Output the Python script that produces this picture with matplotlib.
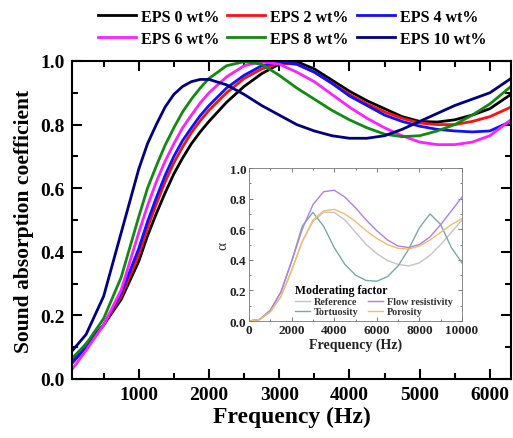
import numpy as np
import matplotlib
matplotlib.use("Agg")
import matplotlib.pyplot as plt
from matplotlib.ticker import MultipleLocator, FormatStrFormatter

plt.rcParams['font.family'] = ['Liberation Serif', 'DejaVu Serif']
plt.rcParams['font.weight'] = 'bold'

# main chart data (Hz, absorption coefficient)
freq = [50, 250, 500, 750, 1000, 1125, 1250, 1375, 1500, 1625, 1750, 1875, 2000, 2250,
        2500, 2750, 3000, 3250, 3500, 3750, 4000, 4250, 4500, 4750, 5000, 5250, 5500,
        5750, 6000, 6300]
eps0 = [0.06, 0.11, 0.17, 0.25, 0.37, 0.45, 0.52, 0.585, 0.645, 0.695, 0.74, 0.777, 0.81,
        0.87, 0.92, 0.96, 0.99, 0.998, 0.975, 0.94, 0.905, 0.875, 0.85, 0.825, 0.81,
        0.808, 0.815, 0.83, 0.85, 0.895]
eps2 = [0.05, 0.10, 0.17, 0.26, 0.39, 0.475, 0.55, 0.62, 0.68, 0.73, 0.775, 0.812, 0.845,
        0.90, 0.945, 0.975, 0.993, 0.99, 0.965, 0.93, 0.895, 0.865, 0.84, 0.82, 0.805,
        0.80, 0.80, 0.81, 0.825, 0.855]
eps4 = [0.05, 0.10, 0.17, 0.27, 0.41, 0.495, 0.57, 0.64, 0.70, 0.75, 0.79, 0.828, 0.86,
        0.915, 0.955, 0.985, 0.997, 0.99, 0.965, 0.93, 0.89, 0.86, 0.83, 0.81, 0.795,
        0.785, 0.78, 0.777, 0.78, 0.81]
eps6 = [0.03, 0.09, 0.17, 0.28, 0.46, 0.545, 0.62, 0.685, 0.74, 0.79, 0.83, 0.868, 0.90,
        0.95, 0.985, 0.998, 0.99, 0.965, 0.935, 0.895, 0.855, 0.82, 0.79, 0.765, 0.745,
        0.737, 0.737, 0.745, 0.765, 0.815]
eps8 = [0.065, 0.11, 0.19, 0.32, 0.51, 0.60, 0.67, 0.735, 0.79, 0.84, 0.88, 0.915, 0.945,
        0.985, 0.998, 0.99, 0.955, 0.915, 0.88, 0.845, 0.815, 0.79, 0.77, 0.762, 0.765,
        0.78, 0.80, 0.83, 0.865, 0.92]
eps10 = [0.088, 0.14, 0.26, 0.46, 0.66, 0.74, 0.80, 0.855, 0.895, 0.92, 0.935, 0.942, 0.942,
         0.925, 0.895, 0.86, 0.83, 0.80, 0.78, 0.765, 0.757, 0.757, 0.765, 0.785, 0.81,
         0.835, 0.86, 0.88, 0.90, 0.945]
labels = ['EPS 0 wt%', 'EPS 2 wt%', 'EPS 4 wt%', 'EPS 6 wt%', 'EPS 8 wt%', 'EPS 10 wt%']
colors = ['#000000', '#ff1010', '#1010ff', '#ff20ff', '#108a10', '#000080']

# inset data
freq_in = [0, 500, 1000, 1500, 2000, 2500, 3000, 3500, 4000, 4500, 5000,
           5500, 6000, 6500, 7000, 7500, 8000, 8500, 9000, 9500, 10000]
ref = [0, 0.01, 0.06, 0.16, 0.33, 0.52, 0.65, 0.71, 0.71, 0.66, 0.58,
       0.50, 0.44, 0.395, 0.37, 0.36, 0.38, 0.43, 0.50, 0.58, 0.66]
flow = [0, 0.01, 0.07, 0.19, 0.39, 0.60, 0.76, 0.845, 0.855, 0.81, 0.74,
        0.66, 0.59, 0.53, 0.49, 0.48, 0.50, 0.55, 0.63, 0.72, 0.81]
tort = [0, 0.01, 0.07, 0.19, 0.39, 0.62, 0.71, 0.62, 0.48, 0.37, 0.30,
        0.265, 0.26, 0.29, 0.36, 0.47, 0.61, 0.70, 0.63, 0.48, 0.38]
poro = [0, 0.01, 0.06, 0.16, 0.33, 0.52, 0.66, 0.72, 0.73, 0.70, 0.65,
        0.59, 0.54, 0.50, 0.475, 0.47, 0.49, 0.53, 0.58, 0.63, 0.67]
inset_labels = ['Reference', 'Tortuosity', 'Flow resistivity', 'Porosity']
inset_colors = ['#c4c4c4', '#78aaa4', '#b07ee6', '#f2bc6c']

fig = plt.figure(figsize=(5.13, 4.39), dpi=100)
ax = fig.add_axes([0.1404, 0.1344, 0.8556, 0.7244])

series = [eps0, eps2, eps4, eps6, eps8, eps10]
lines = []
for y, c, lab in zip(series, colors, labels):
    ln, = ax.plot(freq, y, color=c, lw=2.0, label=lab)
    lines.append(ln)

ax.set_xlim(50, 6300)
ax.set_ylim(0, 1.0)
ax.set_xticks([1000, 2000, 3000, 4000, 5000, 6000])
ax.xaxis.set_minor_locator(MultipleLocator(500))
ax.yaxis.set_major_locator(MultipleLocator(0.2))
ax.yaxis.set_minor_locator(MultipleLocator(0.1))
ax.yaxis.set_major_formatter(FormatStrFormatter('%.1f'))
ax.tick_params(which='both', direction='in', top=True, right=True, width=1.5)
ax.tick_params(which='major', length=7, labelsize=14, pad=5)
ax.tick_params(which='minor', length=4)
for s in ax.spines.values():
    s.set_linewidth(1.5)
ax.set_xlabel('Frequency (Hz)', fontsize=17, fontweight='bold', labelpad=2)
ax.set_ylabel('Sound absorption coefficient', fontsize=15.5, fontweight='bold', labelpad=5)

# legend reads row by row, so reorder for column-major fill
order = [0, 3, 1, 4, 2, 5]
fig.legend([lines[i] for i in order], [labels[i] for i in order], ncol=3,
           loc='upper center', bbox_to_anchor=(0.569, 1.0), frameon=False,
           fontsize=11.5, handlelength=2.4, handletextpad=0.3, columnspacing=0.5,
           labelspacing=0.4, borderaxespad=0.2)

# inset
axi = fig.add_axes([0.4854, 0.2665, 0.4152, 0.3485])
h_ref, = axi.plot(freq_in, ref, color=inset_colors[0], lw=1.0)
h_tort, = axi.plot(freq_in, tort, color=inset_colors[1], lw=1.0)
h_flow, = axi.plot(freq_in, flow, color=inset_colors[2], lw=1.0)
h_poro, = axi.plot(freq_in, poro, color=inset_colors[3], lw=1.0)
axi.set_xlim(0, 10000)
axi.set_ylim(0, 1.0)
axi.set_xticks([0, 2000, 4000, 6000, 8000, 10000])
axi.xaxis.set_minor_locator(MultipleLocator(1000))
axi.yaxis.set_major_locator(MultipleLocator(0.2))
axi.yaxis.set_minor_locator(MultipleLocator(0.1))
axi.yaxis.set_major_formatter(FormatStrFormatter('%.1f'))
axi.tick_params(which='both', direction='in', top=True, right=True, width=0.6, colors='#666666',
                labelcolor='#222222')
axi.tick_params(which='major', length=3, labelsize=9.5, pad=2)
axi.tick_params(which='minor', length=1.5)
for s in axi.spines.values():
    s.set_linewidth(0.6)
    s.set_color('#777777')
axi.set_xlabel('Frequency (Hz)', fontsize=10, fontweight='bold', color='#222222', labelpad=1)
axi.set_ylabel('α', fontsize=11, color='#333333', labelpad=0)
leg = axi.legend([h_ref, h_tort, h_flow, h_poro], inset_labels, ncol=2,
                 loc='lower right', bbox_to_anchor=(1.0, -0.03), frameon=False,
                 fontsize=7.3, title='Moderating factor', handlelength=1.5,
                 handletextpad=0.4, columnspacing=0.9, labelspacing=0.1)
leg.get_title().set_fontsize(8.5)
leg.get_title().set_fontweight('bold')
leg._legend_box.align = 'left'
for t in leg.get_texts():
    t.set_color('#333333')

fig.savefig('out.png', dpi=100)
